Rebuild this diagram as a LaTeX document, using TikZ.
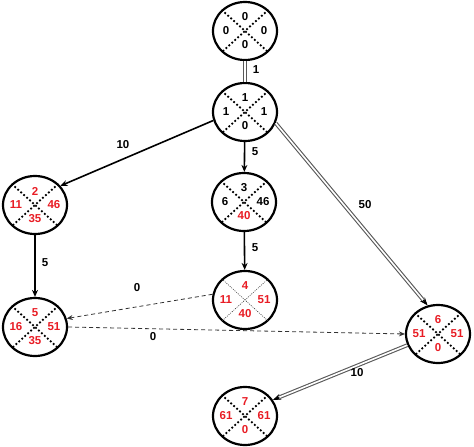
\documentclass[tikz,border=0pt]{standalone}
\usepackage{fontspec}
\setmainfont{Liberation Sans}
\usetikzlibrary{arrows.meta,shapes.geometric,positioning}
\definecolor{evred}{RGB}{232,28,36}

\tikzset{
  evt/.style={ellipse, draw, line width=2.2pt, minimum width=64pt, minimum height=58pt, inner sep=0pt},
  cross/.style={line width=1.8pt, dash pattern=on 1.8pt off 2.2pt},
  thincross/.style={line width=0.6pt, dash pattern=on 1pt off 1.2pt, black!75},
  num/.style={font=\fontsize{11.5}{13}\selectfont\bfseries, inner sep=0pt},
  lbl/.style={font=\fontsize{11.5}{13}\selectfont\bfseries, inner sep=0pt},
  arr/.style={line width=1.6pt, -{Stealth[length=7pt,width=6pt]}},
  dsh/.style={line width=0.8pt, dash pattern=on 4pt off 3pt, black!80, -{Stealth[length=6pt,width=5pt]}},
  dbl/.style={draw=black!65, line width=1.1pt, double=white, double distance=1.6pt},
  dbltip/.style={line width=0.8pt, -{Stealth[length=8pt,width=6pt]}},
}

% event: [cross style]{name}{position}{colour}{top}{left}{right}{bottom}
\newcommand{\evnode}[8][cross]{%
  \node[evt] (#2) at (#3) {};
  \draw[#1] (#2.north west) -- (#2.south east);
  \draw[#1] (#2.north east) -- (#2.south west);
  \node[num, text=#4] (#2t) at ([yshift=14pt]#2.center) {#5};
  \node[num, text=#4] (#2l) at ([xshift=-19pt]#2.center) {#6};
  \node[num, text=#4] (#2r) at ([xshift=19pt]#2.center) {#7};
  \node[num, text=#4] (#2b) at ([yshift=-14pt]#2.center) {#8};
}

\begin{document}
\begin{tikzpicture}[x=1pt, y=-1pt]
  \useasboundingbox (0,0) rectangle (474,447);

  \evnode{n0}{245,31}{black}{0}{0}{0}{0}
  \evnode{n1}{245,112}{black}{1}{1}{1}{0}
  \evnode{n2}{35,205}{evred}{2}{11}{46}{35}
  \evnode{n3}{244,202}{black}{3}{6}{46}{\textcolor{evred}{40}}
  \evnode[thincross]{n4}{245,300}{evred}{4}{11}{51}{40}
  \evnode{n5}{35,327}{evred}{5}{16}{51}{35}
  \evnode{n6}{438,334}{evred}{6}{51}{51}{0}
  \evnode{n7}{245,416}{evred}{7}{61}{61}{0}

  % critical path (double)
  \draw[dbl] (n0) -- (n1);
  \draw[dbltip] (n1.340) -- (n6.110);
  \draw[dbl, shorten >=7pt] (n1.340) -- (n6.110);
  \draw[dbltip] (n6.200) -- (n7.30);
  \draw[dbl, shorten >=7pt] (n6.200) -- (n7.30);

  \draw[arr] (n1.195) -- (n2.37);
  \draw[arr] (n1) -- (n3);
  \draw[arr] (n2) -- (n5);
  \draw[arr] (n3) -- (n4);

  % dummies
  \draw[dsh] (n4.170) -- (n5.15);
  \draw[dsh] (n5.east) -- (n6.west);

  \node[lbl] (w01) at (256,70) {1};
  \node[lbl] (w12) at (123,145) {10};
  \node[lbl] (w13) at (255,152) {5};
  \node[lbl] (w16) at (365,205) {50};
  \node[lbl] (w25) at (45,263) {5};
  \node[lbl] (w34) at (255,248) {5};
  \node[lbl] (w45) at (137,288) {0};
  \node[lbl] (w56) at (153,337) {0};
  \node[lbl] (w67) at (357,373) {10};
\end{tikzpicture}
\end{document}
